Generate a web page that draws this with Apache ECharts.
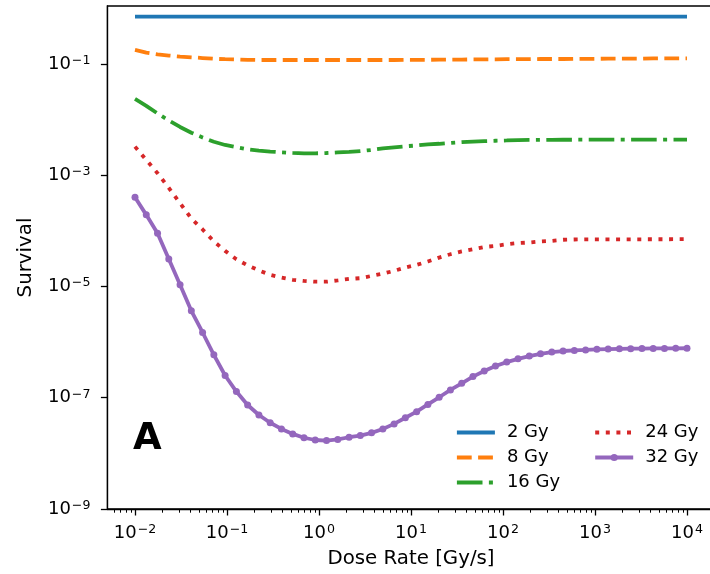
<!DOCTYPE html>
<html>
<head>
<meta charset="utf-8">
<script src="https://cdn.jsdelivr.net/npm/echarts@6/dist/echarts.min.js"></script>
<style>html,body{margin:0;padding:0;background:#fff;}#c{width:710px;height:574px;}</style>
</head>
<body>
<div id="c"></div>
<script>
// Dose rate [Gy/s] (50 points per curve)
const doseRate = [0.01, 0.013257, 0.017575, 0.0233, 0.030888, 0.040949, 0.054287, 0.071969, 0.09541, 0.12649,
  0.16768, 0.2223, 0.29471, 0.39069, 0.51795, 0.68665, 0.9103, 1.2068, 1.5999, 2.121,
  2.8118, 3.7276, 4.9417, 6.5513, 8.6851, 11.514, 15.264, 20.236, 26.827, 35.565,
  47.149, 62.506, 82.864, 109.85, 145.63, 193.07, 255.95, 339.32, 449.84, 596.36,
  790.6, 1048.1, 1389.5, 1842.1, 2442.1, 3237.5, 4291.9, 5689.9, 7543.1, 10000];

const seriesNames = ['2 Gy', '8 Gy', '16 Gy', '24 Gy', '32 Gy'];

const surv2Gy = [0.708, 0.708, 0.708, 0.708, 0.708, 0.708, 0.708, 0.708, 0.708, 0.708,
  0.708, 0.708, 0.708, 0.708, 0.708, 0.708, 0.708, 0.708, 0.708, 0.708,
  0.708, 0.708, 0.708, 0.708, 0.708, 0.708, 0.708, 0.708, 0.708, 0.708,
  0.708, 0.708, 0.708, 0.708, 0.708, 0.708, 0.708, 0.708, 0.708, 0.708,
  0.708, 0.708, 0.708, 0.708, 0.708, 0.708, 0.708, 0.708, 0.708, 0.708];

const surv8Gy = [0.179, 0.160, 0.149, 0.142, 0.136, 0.132, 0.128, 0.124, 0.122, 0.121,
  0.119, 0.118, 0.118, 0.118, 0.118, 0.118, 0.118, 0.118, 0.118, 0.118,
  0.118, 0.118, 0.118, 0.118, 0.119, 0.119, 0.119, 0.120, 0.120, 0.120,
  0.121, 0.121, 0.121, 0.122, 0.122, 0.122, 0.123, 0.123, 0.123, 0.124,
  0.124, 0.124, 0.125, 0.125, 0.125, 0.125, 0.126, 0.126, 0.126, 0.126];

const surv16Gy = [2.35e-2, 1.77e-2, 1.29e-2, 9.66e-3, 7.38e-3, 5.81e-3, 4.78e-3, 4.00e-3, 3.50e-3, 3.20e-3,
  2.92e-3, 2.78e-3, 2.67e-3, 2.59e-3, 2.52e-3, 2.48e-3, 2.48e-3, 2.51e-3, 2.57e-3, 2.63e-3,
  2.71e-3, 2.85e-3, 3.04e-3, 3.18e-3, 3.32e-3, 3.43e-3, 3.59e-3, 3.68e-3, 3.82e-3, 3.94e-3,
  4.02e-3, 4.10e-3, 4.17e-3, 4.22e-3, 4.28e-3, 4.31e-3, 4.33e-3, 4.34e-3, 4.35e-3, 4.35e-3,
  4.36e-3, 4.36e-3, 4.36e-3, 4.36e-3, 4.36e-3, 4.36e-3, 4.36e-3, 4.36e-3, 4.36e-3, 4.36e-3];

const surv24Gy = [3.27e-3, 1.88e-3, 1.09e-3, 5.92e-4, 3.14e-4, 1.67e-4, 1.06e-4, 6.46e-5, 4.37e-5, 3.09e-5,
  2.40e-5, 1.95e-5, 1.62e-5, 1.45e-5, 1.32e-5, 1.26e-5, 1.22e-5, 1.22e-5, 1.29e-5, 1.37e-5,
  1.41e-5, 1.55e-5, 1.70e-5, 1.91e-5, 2.19e-5, 2.45e-5, 2.82e-5, 3.31e-5, 3.80e-5, 4.27e-5,
  4.68e-5, 5.13e-5, 5.37e-5, 5.75e-5, 6.03e-5, 6.17e-5, 6.46e-5, 6.61e-5, 6.92e-5, 7.00e-5,
  7.02e-5, 7.03e-5, 7.04e-5, 7.05e-5, 7.06e-5, 7.06e-5, 7.07e-5, 7.07e-5, 7.08e-5, 7.08e-5];

const surv32Gy = [4.03e-4, 1.94e-4, 9.06e-5, 3.13e-5, 1.07e-5, 3.65e-6, 1.49e-6, 5.90e-7, 2.51e-7, 1.29e-7,
  7.41e-8, 4.90e-8, 3.55e-8, 2.75e-8, 2.24e-8, 1.91e-8, 1.74e-8, 1.70e-8, 1.78e-8, 1.95e-8,
  2.09e-8, 2.34e-8, 2.75e-8, 3.39e-8, 4.37e-8, 5.62e-8, 7.59e-8, 1.02e-7, 1.38e-7, 1.82e-7,
  2.40e-7, 3.02e-7, 3.72e-7, 4.37e-7, 5.01e-7, 5.62e-7, 6.17e-7, 6.61e-7, 6.92e-7, 7.08e-7,
  7.24e-7, 7.41e-7, 7.50e-7, 7.59e-7, 7.64e-7, 7.67e-7, 7.69e-7, 7.71e-7, 7.74e-7, 7.76e-7];

// Tick labels (decade exponents)
const xTickExponents = [-2, -1, 0, 1, 2, 3, 4];
const yTickExponents = [-9, -7, -5, -3, -1];
const xMinorMultipliers = [2, 3, 4, 5, 6, 7, 8, 9];

const FONT = 'DejaVu Sans';
const xMinExp = -2.3, xMaxExp = 4.3;
const yMinExp = -9, yMaxExp = 0.0426;

const xMinor = [];
for (let n = -3; n <= 4; n++) {
  xMinorMultipliers.forEach(m => {
    const v = Math.log10(m) + n;
    if (v > xMinExp && v < xMaxExp) xMinor.push(v);
  });
}

function powLabel(v) {
  const e = Math.round(v);
  const s = e < 0 ? '\u2212' + Math.abs(e) : String(e);
  return '{b|10}{s|' + s + '}';
}
const rich = {
  b: { fontSize: 18, lineHeight: 20, fontFamily: FONT, color: '#000' },
  s: { fontSize: 12.6, lineHeight: 10, verticalAlign: 'top', fontFamily: FONT, color: '#000', padding: [0, 0, 0, 1] }
};

const colors = ['#1f77b4', '#ff7f0e', '#2ca02c', '#d62728', '#9467bd'];
const dashes = ['solid', [14.8, 6.4], [25.6, 6.4, 4, 6.4], [4, 6.6], 'solid'];
const values = [surv2Gy, surv8Gy, surv16Gy, surv24Gy, surv32Gy];

const series = seriesNames.map((name, k) => ({
  name: name,
  type: 'line',
  xAxisIndex: 0,
  yAxisIndex: 0,
  data: doseRate.map((x, i) => [x, values[k][i]]),
  symbol: k === 4 ? 'circle' : 'none',
  symbolSize: 7,
  showSymbol: k === 4,
  color: colors[k],
  itemStyle: { color: colors[k] },
  lineStyle: { color: colors[k], width: 3.8, type: dashes[k], cap: 'butt' },
  emphasis: { disabled: true },
  z: 2 + k
}));

const legendText = { fontSize: 18, fontFamily: FONT, color: '#000', lineHeight: 18, padding: [0, 0, 0, 7] };
function legendItem(name) {
  return name === '32 Gy' ? { name: name } : { name: name, itemStyle: { opacity: 0, color: 'rgba(0,0,0,0)', borderWidth: 0 } };
}
const legendCommon = {
  orient: 'vertical', top: 423.5, itemWidth: 38, itemHeight: 9, itemGap: 7, padding: 0,
  selectedMode: false, textStyle: legendText, lineStyle: { width: 3.8 }
};

const option = {
  animation: false,
  backgroundColor: '#fff',
  grid: {
    left: 107.4, top: 6, width: 607.2, height: 503,
    containLabel: false, outerBoundsMode: 'none',
    show: true, borderColor: '#000', borderWidth: 1.3, backgroundColor: 'transparent'
  },
  legend: [
    Object.assign({ data: seriesNames.slice(0, 3).map(legendItem), left: 455 }, legendCommon),
    Object.assign({ data: seriesNames.slice(3).map(legendItem), left: 593.3 }, legendCommon)
  ],
  xAxis: [
    { type: 'log', logBase: 10, min: Math.pow(10, xMinExp), max: Math.pow(10, xMaxExp), position: 'bottom',
      axisLine: { show: true, onZero: false, lineStyle: { color: '#000', width: 1.3 } },
      axisTick: { show: false }, axisLabel: { show: false }, splitLine: { show: false }, minorTick: { show: false },
      name: 'Dose Rate [Gy/s]', nameLocation: 'middle', nameGap: 40,
      nameTextStyle: { fontSize: 19.8, fontFamily: FONT, color: '#000' } },
    { type: 'value', min: xMinExp, max: xMaxExp, position: 'bottom',
      axisLine: { show: false, onZero: false },
      axisTick: { show: true, customValues: xTickExponents, length: 6.5, lineStyle: { color: '#000', width: 1.3 } },
      axisLabel: { show: true, customValues: xTickExponents, margin: 14, formatter: powLabel, rich: rich },
      splitLine: { show: false } },
    { type: 'value', min: xMinExp, max: xMaxExp, position: 'bottom',
      axisLine: { show: false, onZero: false },
      axisTick: { show: true, customValues: xMinor, length: 3.7, lineStyle: { color: '#000', width: 1 } },
      axisLabel: { show: false }, splitLine: { show: false } }
  ],
  yAxis: [
    { type: 'log', logBase: 10, min: Math.pow(10, yMinExp), max: Math.pow(10, yMaxExp), position: 'left',
      axisLine: { show: true, onZero: false, lineStyle: { color: '#000', width: 1.3 } },
      axisTick: { show: false }, axisLabel: { show: false }, splitLine: { show: false }, minorTick: { show: false },
      name: 'Survival', nameLocation: 'middle', nameGap: 72,
      nameTextStyle: { fontSize: 19.8, fontFamily: FONT, color: '#000' } },
    { type: 'value', min: yMinExp, max: yMaxExp, position: 'left',
      axisLine: { show: false, onZero: false },
      axisTick: { show: true, customValues: yTickExponents, length: 6.5, lineStyle: { color: '#000', width: 1.3 } },
      axisLabel: { show: true, customValues: yTickExponents, margin: 17, formatter: powLabel, rich: rich },
      splitLine: { show: false } }
  ],
  graphic: [
    { type: 'text', x: 133, y: 439.5, z: 10,
      style: { text: 'A', font: 'bold 37px "DejaVu Sans"', fill: '#000', align: 'left', verticalAlign: 'middle' } }
  ],
  series: series
};

const chart = echarts.init(document.getElementById('c'), null, { renderer: 'canvas' });
chart.setOption(option);
</script>
</body>
</html>
